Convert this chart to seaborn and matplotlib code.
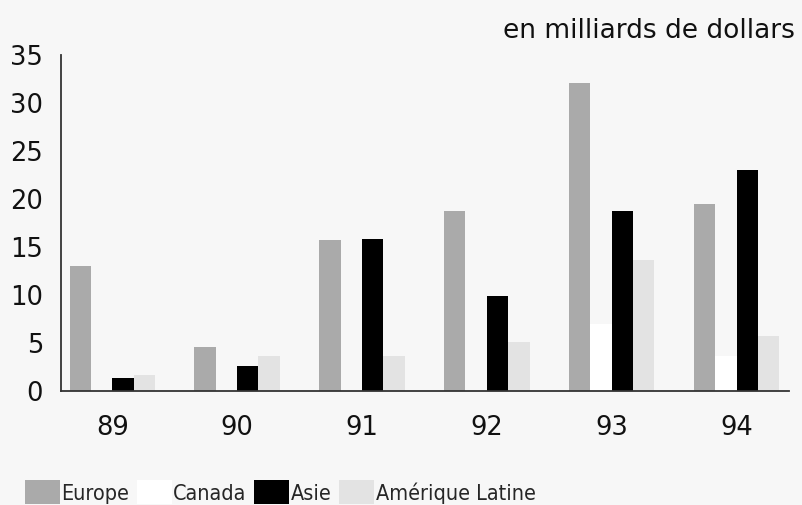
import matplotlib
matplotlib.use("Agg")
import matplotlib.pyplot as plt
import seaborn as sns
import pandas as pd
from matplotlib.patches import Patch
from matplotlib import font_manager

# Investment by region, in billions of dollars
years = ["89", "90", "91", "92", "93", "94"]
regions = ["Europe", "Canada", "Asie", "Amérique Latine"]
europe = [13.0, 4.6, 15.7, 18.8, 32.1, 19.5]
canada = [0.0, 0.0, 0.0, 0.0, 7.0, 3.6]
asie = [1.4, 2.6, 15.8, 9.9, 18.8, 23.0]
amerique_latine = [1.7, 3.7, 3.7, 5.1, 13.6, 5.7]
colors = ["#aaaaaa", "#ffffff", "#000000", "#e3e3e3"]

series = [europe, canada, asie, amerique_latine]
df = pd.DataFrame(
    [(y, r, v) for r, vals in zip(regions, series) for y, v in zip(years, vals)],
    columns=["année", "région", "valeur"],
)

sns.set_theme(style="white")
bg = "#f7f7f7"
fig = plt.figure(figsize=(8.03, 5.05), dpi=100, facecolor=bg)
ax = fig.add_axes([0.076, 0.2257, 0.9066, 0.6653], facecolor=bg)

sns.barplot(
    data=df, x="année", y="valeur", hue="région",
    order=years, hue_order=regions, palette=colors,
    width=0.684, gap=0, saturation=1, edgecolor="none",
    legend=False, ax=ax,
)

ax.set_ylim(0, 35)
ax.set_xlim(-0.41, 5.42)
ax.set_yticks(range(0, 36, 5))
ax.set_xlabel("")
ax.set_ylabel("")
for s in ["top", "right"]:
    ax.spines[s].set_visible(False)
for s in ["left", "bottom"]:
    ax.spines[s].set_color("#333333")
    ax.spines[s].set_linewidth(1.3)
ax.tick_params(axis="y", length=0, pad=13, labelsize=18.5, labelcolor="#111111")
ax.tick_params(axis="x", length=0, pad=17, labelsize=18.5, labelcolor="#111111")

fig.text(0.99, 0.938, "en milliards de dollars", ha="right", va="center",
         fontsize=19, color="#111111")

# condensed face for the legend, if one is installed
narrow = None
for f in font_manager.fontManager.ttflist:
    lname = f.name.lower()
    if f.weight in (400, "normal", "regular") and f.style == "normal" and (
        "narrow" in lname or "condensed" in lname
        or str(f.stretch) in ("condensed", "semi-condensed", "extra-condensed")
        or (isinstance(f.stretch, int) and f.stretch < 500)
    ):
        narrow = f.fname
        break

if narrow:
    legend_prop = font_manager.FontProperties(fname=narrow, size=15.5)
else:
    legend_prop = font_manager.FontProperties(family="DejaVu Sans", size=12)

handles = [Patch(facecolor=c, edgecolor="none", label=r) for c, r in zip(colors, regions)]
fig.legend(handles=handles, loc="lower left", bbox_to_anchor=(0.02, -0.016),
           ncol=4, frameon=False, prop=legend_prop,
           handlelength=1.62, handleheight=1.35,
           handletextpad=0.08, columnspacing=0.35, borderaxespad=0)

fig.savefig("out.png", dpi=100, facecolor=bg)
